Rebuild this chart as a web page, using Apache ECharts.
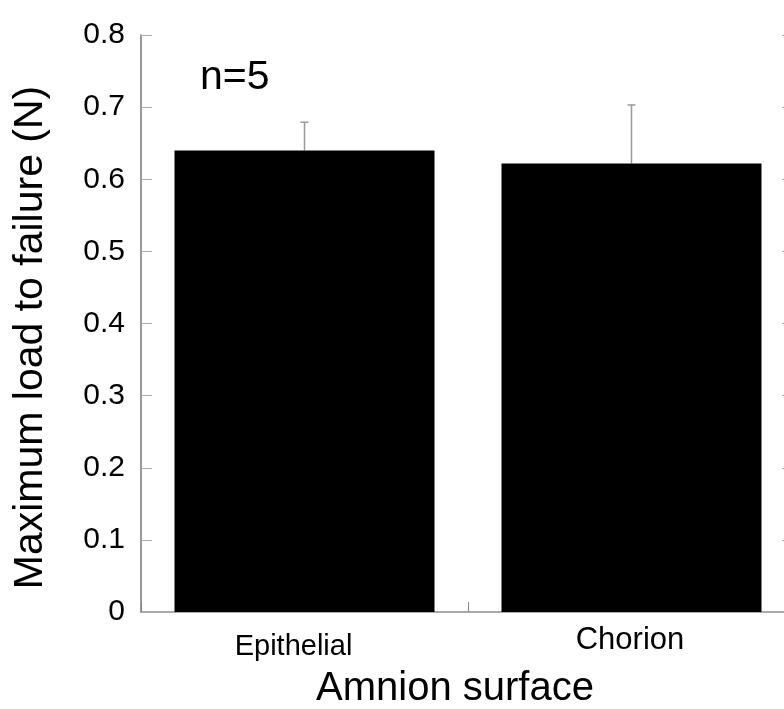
<!DOCTYPE html>
<html>
<head>
<meta charset="utf-8">
<script src="https://cdn.jsdelivr.net/npm/echarts@6/dist/echarts.min.js"></script>
<style>html,body{margin:0;padding:0;background:#fff;}#c{width:784px;height:709px;}</style>
</head>
<body>
<div id="c"></div>
<script>
var categories = ['Epithelial', 'Chorion'];
var meanLoad = [0.640, 0.622];
var errLoad = [0.039, 0.081];
var yTicks = [0, 0.1, 0.2, 0.3, 0.4, 0.5, 0.6, 0.7, 0.8];

var chart = echarts.init(document.getElementById('c'));
var FONT = '"Liberation Sans", Arial, sans-serif';
var errData = categories.map(function (c, i) { return [i, meanLoad[i], meanLoad[i] + errLoad[i]]; });

chart.setOption({
  animation: false,
  backgroundColor: '#fff',
  grid: { left: 141, width: 654, top: 35, height: 577, containLabel: false, outerBoundsMode: 'none' },
  xAxis: [{
    type: 'category',
    data: categories,
    position: 'bottom',
    axisLine: { show: true, lineStyle: { color: '#888', width: 1.5 } },
    axisTick: { show: true, inside: true, length: 10, lineStyle: { color: '#888' } },
    axisLabel: {
      margin: 13,
      fontFamily: FONT,
      fontSize: 30,
      color: '#000',
      formatter: function (v) { return v === 'Epithelial' ? '{e|' + v + '}' : '{c|' + v + '}'; },
      rich: {
        e: { fontFamily: FONT, fontSize: 29, color: '#000', padding: [7, 22, 0, 0] },
        c: { fontFamily: FONT, fontSize: 31, color: '#000', padding: [0, 3, 0, 0] }
      }
    },
    name: 'Amnion surface',
    nameLocation: 'middle',
    nameGap: 57,
    nameTextStyle: { fontFamily: FONT, fontSize: 40, color: '#000', padding: [0, 26, 0, 0] }
  }, {
    type: 'category',
    data: categories,
    position: 'top',
    axisLine: { show: true, lineStyle: { color: '#aaa', width: 1.5 } },
    axisTick: { show: false },
    axisLabel: { show: false }
  }],
  yAxis: [{
    type: 'value',
    min: 0,
    max: 0.8,
    interval: 0.1,
    position: 'left',
    axisLine: { show: true, lineStyle: { color: '#777', width: 1.5 } },
    axisTick: { show: true, inside: true, length: 11, lineStyle: { color: '#aaa' } },
    splitLine: { show: false },
    axisLabel: {
      margin: 16,
      fontFamily: FONT,
      fontSize: 30,
      color: '#000',
      formatter: function (v) {
        var t = yTicks.filter(function (x) { return Math.abs(x - v) < 1e-9; });
        return t.length ? (v === 0 ? '0' : v.toFixed(1)) : '';
      }
    },
    name: 'Maximum load to failure (N)',
    nameLocation: 'middle',
    nameGap: 90,
    nameTextStyle: { fontFamily: FONT, fontSize: 41, color: '#000', padding: [0, 28, 0, 0] }
  }, {
    type: 'value',
    min: 0,
    max: 0.8,
    interval: 0.1,
    position: 'right',
    axisLine: { show: true, lineStyle: { color: '#777' } },
    axisTick: { show: true, inside: true, length: 13, lineStyle: { color: '#aaa' } },
    axisLabel: { show: false },
    splitLine: { show: false }
  }],
  graphic: [{
    type: 'text',
    left: 200,
    top: 57,
    style: { text: 'n=5', fontFamily: FONT, fontSize: 41, fill: '#000' }
  }],
  series: [{
    type: 'bar',
    data: meanLoad,
    barWidth: 260,
    itemStyle: { color: '#000' },
    z: 2
  }, {
    type: 'custom',
    data: errData,
    z: 1,
    renderItem: function (params, api) {
      var x = api.value(0);
      var lo = api.coord([x, api.value(1)]);
      var hi = api.coord([x, api.value(2)]);
      var style = { stroke: '#999', lineWidth: 1.5 };
      return {
        type: 'group',
        children: [
          { type: 'line', shape: { x1: hi[0], y1: lo[1], x2: hi[0], y2: hi[1] }, style: style },
          { type: 'line', shape: { x1: hi[0] - 4, y1: hi[1], x2: hi[0] + 4, y2: hi[1] }, style: style }
        ]
      };
    }
  }]
});
</script>
</body>
</html>
